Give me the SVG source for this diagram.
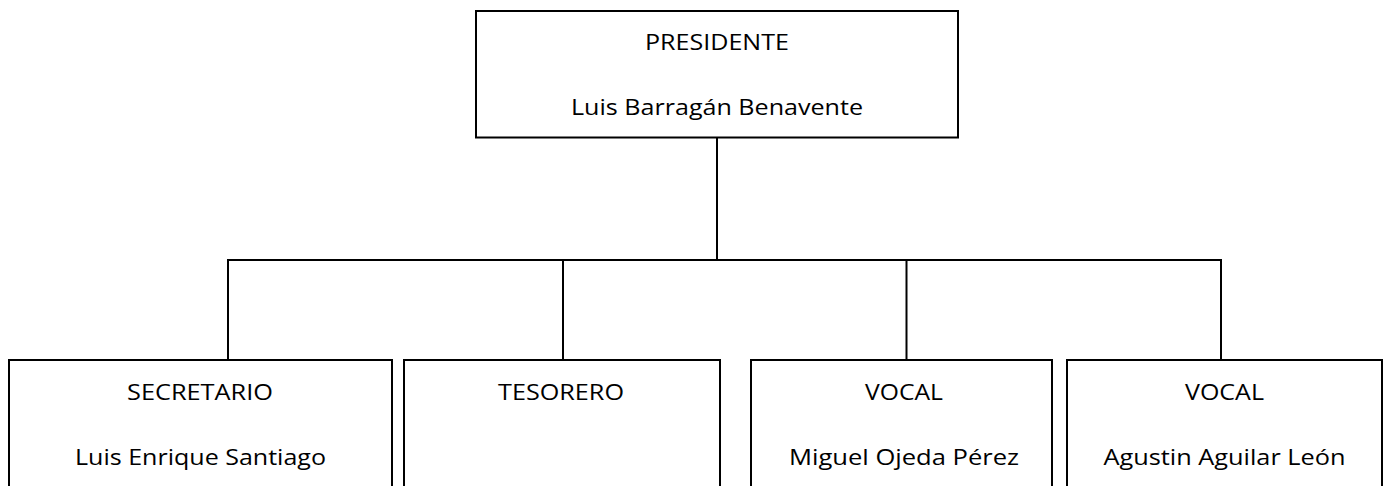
<svg xmlns="http://www.w3.org/2000/svg" width="1384" height="486" viewBox="0 0 1384 486">
<style>
.box{fill:#fff;stroke:#000;stroke-width:2}
.conn{fill:none;stroke:#000;stroke-width:2}
.t{font-family:"Open Sans","Liberation Sans",sans-serif;font-size:21.5px;fill:#000;text-anchor:middle}
</style>
<rect width="1384" height="486" fill="#fff"/>
<g id="connectors">
<path class="conn" d="M717 137.5V260"/>
<path class="conn" d="M228 360V260H1221V360"/>
<path class="conn" d="M563 260V360"/>
<path class="conn" d="M906.5 260V360"/>
</g>
<g id="presidente">
<rect class="box" x="476" y="11" width="482" height="126.5"/>
<text class="t" x="717" y="50" textLength="144" lengthAdjust="spacingAndGlyphs">PRESIDENTE</text>
<text class="t" x="717" y="115" textLength="292" lengthAdjust="spacingAndGlyphs">Luis Barragán Benavente</text>
</g>
<g id="secretario">
<rect class="box" x="9" y="360" width="383" height="140"/>
<text class="t" x="200" y="399.5" textLength="146" lengthAdjust="spacingAndGlyphs">SECRETARIO</text>
<text class="t" x="200.5" y="465" textLength="251" lengthAdjust="spacingAndGlyphs">Luis Enrique Santiago</text>
</g>
<g id="tesorero">
<rect class="box" x="404" y="360" width="316" height="140"/>
<text class="t" x="561" y="399.5" textLength="126" lengthAdjust="spacingAndGlyphs">TESORERO</text>
</g>
<g id="vocal1">
<rect class="box" x="751" y="360" width="301" height="140"/>
<text class="t" x="904" y="399.5" textLength="78" lengthAdjust="spacingAndGlyphs">VOCAL</text>
<text class="t" x="904" y="465" textLength="230" lengthAdjust="spacingAndGlyphs">Miguel Ojeda Pérez</text>
</g>
<g id="vocal2">
<rect class="box" x="1067" y="360" width="315" height="140"/>
<text class="t" x="1224.5" y="399.5" textLength="79" lengthAdjust="spacingAndGlyphs">VOCAL</text>
<text class="t" x="1224.5" y="465" textLength="242" lengthAdjust="spacingAndGlyphs">Agustin Aguilar León</text>
</g>
</svg>
